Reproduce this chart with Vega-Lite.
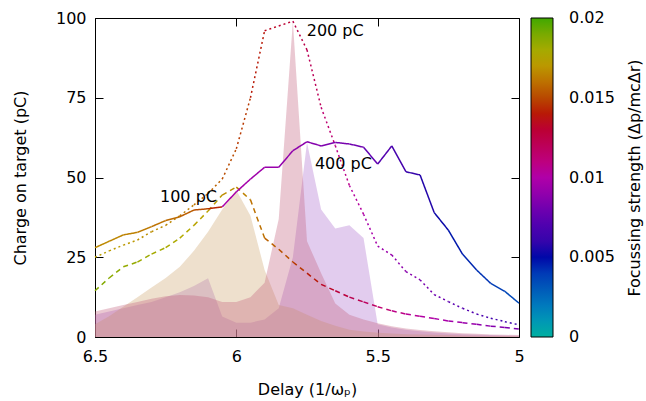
{
  "$schema": "https://vega.github.io/schema/vega-lite/v6.json",
  "width": 424,
  "height": 319,
  "autosize": {"type": "none"},
  "padding": {"left": 95, "top": 18, "right": 127, "bottom": 64},
  "background": "white",
  "config": {
    "font": "DejaVu Sans",
    "view": {"stroke": "black", "strokeWidth": 1},
    "axis": {"grid": false, "domain": false, "tickColor": "black", "tickSize": -8, "tickWidth": 1, "labelFontSize": 16, "labelColor": "black", "labelFlush": false, "labelOverlap": false, "titleFontSize": 16, "titleFontWeight": "normal", "titleColor": "black"},
    "text": {"font": "DejaVu Sans"}
  },
  "datasets": {
    "lines": [
      {"s": "100 pC", "d": 6.5, "q": 14.5, "f": 0.0188},
      {"s": "100 pC", "d": 6.45, "q": 18.5, "f": 0.0186},
      {"s": "100 pC", "d": 6.4, "q": 22, "f": 0.0184},
      {"s": "100 pC", "d": 6.35, "q": 23.5, "f": 0.0182},
      {"s": "100 pC", "d": 6.3, "q": 26, "f": 0.018},
      {"s": "100 pC", "d": 6.25, "q": 28, "f": 0.0178},
      {"s": "100 pC", "d": 6.2, "q": 31, "f": 0.0176},
      {"s": "100 pC", "d": 6.15, "q": 35, "f": 0.0173},
      {"s": "100 pC", "d": 6.1, "q": 39.5, "f": 0.017},
      {"s": "100 pC", "d": 6.05, "q": 44.5, "f": 0.0167},
      {"s": "100 pC", "d": 6.0, "q": 47, "f": 0.0164},
      {"s": "100 pC", "d": 5.95, "q": 43, "f": 0.016},
      {"s": "100 pC", "d": 5.9, "q": 31, "f": 0.0156},
      {"s": "100 pC", "d": 5.85, "q": 27.5, "f": 0.0152},
      {"s": "100 pC", "d": 5.8, "q": 23.5, "f": 0.0146},
      {"s": "100 pC", "d": 5.75, "q": 20, "f": 0.014},
      {"s": "100 pC", "d": 5.7, "q": 16.5, "f": 0.0134},
      {"s": "100 pC", "d": 5.65, "q": 14.5, "f": 0.0128},
      {"s": "100 pC", "d": 5.6, "q": 12.5, "f": 0.0123},
      {"s": "100 pC", "d": 5.55, "q": 11, "f": 0.0118},
      {"s": "100 pC", "d": 5.5, "q": 9.5, "f": 0.0113},
      {"s": "100 pC", "d": 5.45, "q": 8.2, "f": 0.0108},
      {"s": "100 pC", "d": 5.4, "q": 7.2, "f": 0.0104},
      {"s": "100 pC", "d": 5.35, "q": 6.5, "f": 0.0101},
      {"s": "100 pC", "d": 5.3, "q": 5.8, "f": 0.0098},
      {"s": "100 pC", "d": 5.25, "q": 5, "f": 0.0095},
      {"s": "100 pC", "d": 5.2, "q": 4.5, "f": 0.0092},
      {"s": "100 pC", "d": 5.15, "q": 4, "f": 0.0089},
      {"s": "100 pC", "d": 5.1, "q": 3.4, "f": 0.0086},
      {"s": "100 pC", "d": 5.05, "q": 3, "f": 0.0083},
      {"s": "100 pC", "d": 5.0, "q": 2.5, "f": 0.008},
      {"s": "200 pC", "d": 6.5, "q": 25, "f": 0.0172},
      {"s": "200 pC", "d": 6.45, "q": 27, "f": 0.0171},
      {"s": "200 pC", "d": 6.4, "q": 28.8, "f": 0.017},
      {"s": "200 pC", "d": 6.35, "q": 30.4, "f": 0.0168},
      {"s": "200 pC", "d": 6.3, "q": 33, "f": 0.0167},
      {"s": "200 pC", "d": 6.25, "q": 35, "f": 0.0165},
      {"s": "200 pC", "d": 6.2, "q": 38, "f": 0.0163},
      {"s": "200 pC", "d": 6.15, "q": 41.4, "f": 0.016},
      {"s": "200 pC", "d": 6.1, "q": 45, "f": 0.0156},
      {"s": "200 pC", "d": 6.05, "q": 49.5, "f": 0.0151},
      {"s": "200 pC", "d": 6.0, "q": 59, "f": 0.0146},
      {"s": "200 pC", "d": 5.95, "q": 75, "f": 0.014},
      {"s": "200 pC", "d": 5.9, "q": 96, "f": 0.0135},
      {"s": "200 pC", "d": 5.85, "q": 97.5, "f": 0.013},
      {"s": "200 pC", "d": 5.8, "q": 99, "f": 0.0125},
      {"s": "200 pC", "d": 5.75, "q": 90, "f": 0.012},
      {"s": "200 pC", "d": 5.7, "q": 72, "f": 0.0113},
      {"s": "200 pC", "d": 5.65, "q": 60, "f": 0.0107},
      {"s": "200 pC", "d": 5.6, "q": 47.5, "f": 0.0102},
      {"s": "200 pC", "d": 5.55, "q": 38.5, "f": 0.0097},
      {"s": "200 pC", "d": 5.5, "q": 28.5, "f": 0.0093},
      {"s": "200 pC", "d": 5.45, "q": 25.7, "f": 0.0089},
      {"s": "200 pC", "d": 5.4, "q": 20.5, "f": 0.0086},
      {"s": "200 pC", "d": 5.35, "q": 17.9, "f": 0.0082},
      {"s": "200 pC", "d": 5.3, "q": 13.3, "f": 0.0079},
      {"s": "200 pC", "d": 5.25, "q": 11.1, "f": 0.0075},
      {"s": "200 pC", "d": 5.2, "q": 9, "f": 0.0072},
      {"s": "200 pC", "d": 5.15, "q": 7.2, "f": 0.0068},
      {"s": "200 pC", "d": 5.1, "q": 5.9, "f": 0.0065},
      {"s": "200 pC", "d": 5.05, "q": 4.8, "f": 0.0061},
      {"s": "200 pC", "d": 5.0, "q": 3.8, "f": 0.0058},
      {"s": "400 pC", "d": 6.5, "q": 28, "f": 0.0166},
      {"s": "400 pC", "d": 6.45, "q": 30, "f": 0.0165},
      {"s": "400 pC", "d": 6.4, "q": 32, "f": 0.0164},
      {"s": "400 pC", "d": 6.35, "q": 32.8, "f": 0.0162},
      {"s": "400 pC", "d": 6.3, "q": 34.6, "f": 0.016},
      {"s": "400 pC", "d": 6.25, "q": 36.5, "f": 0.0158},
      {"s": "400 pC", "d": 6.2, "q": 37.7, "f": 0.0155},
      {"s": "400 pC", "d": 6.15, "q": 39.8, "f": 0.0151},
      {"s": "400 pC", "d": 6.1, "q": 40.2, "f": 0.0142},
      {"s": "400 pC", "d": 6.05, "q": 40.8, "f": 0.0098},
      {"s": "400 pC", "d": 6.0, "q": 45.5, "f": 0.0096},
      {"s": "400 pC", "d": 5.95, "q": 49.5, "f": 0.0094},
      {"s": "400 pC", "d": 5.9, "q": 53.2, "f": 0.0092},
      {"s": "400 pC", "d": 5.85, "q": 53.2, "f": 0.009},
      {"s": "400 pC", "d": 5.8, "q": 58.4, "f": 0.0088},
      {"s": "400 pC", "d": 5.75, "q": 61.2, "f": 0.0086},
      {"s": "400 pC", "d": 5.7, "q": 59.9, "f": 0.0084},
      {"s": "400 pC", "d": 5.65, "q": 61, "f": 0.0082},
      {"s": "400 pC", "d": 5.6, "q": 60.5, "f": 0.008},
      {"s": "400 pC", "d": 5.55, "q": 59.5, "f": 0.0077},
      {"s": "400 pC", "d": 5.5, "q": 54.2, "f": 0.0072},
      {"s": "400 pC", "d": 5.45, "q": 59.9, "f": 0.0066},
      {"s": "400 pC", "d": 5.4, "q": 51.8, "f": 0.006},
      {"s": "400 pC", "d": 5.35, "q": 50.8, "f": 0.0055},
      {"s": "400 pC", "d": 5.3, "q": 39, "f": 0.0051},
      {"s": "400 pC", "d": 5.25, "q": 33.5, "f": 0.0048},
      {"s": "400 pC", "d": 5.2, "q": 26, "f": 0.0045},
      {"s": "400 pC", "d": 5.15, "q": 21, "f": 0.0042},
      {"s": "400 pC", "d": 5.1, "q": 16.8, "f": 0.0039},
      {"s": "400 pC", "d": 5.05, "q": 14.3, "f": 0.0036},
      {"s": "400 pC", "d": 5.0, "q": 10.6, "f": 0.0033}
    ],
    "areas": [
      {"s": "100 pC", "d": 6.5, "q": 4},
      {"s": "100 pC", "d": 6.45, "q": 6.5},
      {"s": "100 pC", "d": 6.4, "q": 9.5},
      {"s": "100 pC", "d": 6.35, "q": 12.5},
      {"s": "100 pC", "d": 6.3, "q": 15.5},
      {"s": "100 pC", "d": 6.25, "q": 18.5},
      {"s": "100 pC", "d": 6.2, "q": 22},
      {"s": "100 pC", "d": 6.15, "q": 27},
      {"s": "100 pC", "d": 6.1, "q": 33},
      {"s": "100 pC", "d": 6.05, "q": 40},
      {"s": "100 pC", "d": 6.0, "q": 46},
      {"s": "100 pC", "d": 5.95, "q": 38},
      {"s": "100 pC", "d": 5.9, "q": 21},
      {"s": "100 pC", "d": 5.85, "q": 10},
      {"s": "100 pC", "d": 5.8, "q": 9},
      {"s": "100 pC", "d": 5.75, "q": 7},
      {"s": "100 pC", "d": 5.7, "q": 5},
      {"s": "100 pC", "d": 5.65, "q": 3.5},
      {"s": "100 pC", "d": 5.6, "q": 2.3},
      {"s": "100 pC", "d": 5.55, "q": 1.7},
      {"s": "100 pC", "d": 5.5, "q": 1.3},
      {"s": "100 pC", "d": 5.45, "q": 1.1},
      {"s": "100 pC", "d": 5.4, "q": 0.9},
      {"s": "100 pC", "d": 5.35, "q": 0.8},
      {"s": "100 pC", "d": 5.3, "q": 0.7},
      {"s": "100 pC", "d": 5.25, "q": 0.6},
      {"s": "100 pC", "d": 5.2, "q": 0.5},
      {"s": "100 pC", "d": 5.15, "q": 0.4},
      {"s": "100 pC", "d": 5.1, "q": 0.35},
      {"s": "100 pC", "d": 5.05, "q": 0.3},
      {"s": "100 pC", "d": 5.0, "q": 0.25},
      {"s": "200 pC", "d": 6.5, "q": 8},
      {"s": "200 pC", "d": 6.45, "q": 9},
      {"s": "200 pC", "d": 6.4, "q": 10},
      {"s": "200 pC", "d": 6.35, "q": 11},
      {"s": "200 pC", "d": 6.3, "q": 12},
      {"s": "200 pC", "d": 6.25, "q": 12.8},
      {"s": "200 pC", "d": 6.2, "q": 13.2},
      {"s": "200 pC", "d": 6.15, "q": 13},
      {"s": "200 pC", "d": 6.1, "q": 12.5},
      {"s": "200 pC", "d": 6.05, "q": 11},
      {"s": "200 pC", "d": 6.0, "q": 11},
      {"s": "200 pC", "d": 5.95, "q": 12.5},
      {"s": "200 pC", "d": 5.9, "q": 17},
      {"s": "200 pC", "d": 5.85, "q": 37},
      {"s": "200 pC", "d": 5.8, "q": 99},
      {"s": "200 pC", "d": 5.75, "q": 30},
      {"s": "200 pC", "d": 5.7, "q": 20},
      {"s": "200 pC", "d": 5.65, "q": 10.5},
      {"s": "200 pC", "d": 5.6, "q": 7},
      {"s": "200 pC", "d": 5.55, "q": 5.5},
      {"s": "200 pC", "d": 5.5, "q": 4.3},
      {"s": "200 pC", "d": 5.45, "q": 3.4},
      {"s": "200 pC", "d": 5.4, "q": 2.7},
      {"s": "200 pC", "d": 5.35, "q": 2.2},
      {"s": "200 pC", "d": 5.3, "q": 1.8},
      {"s": "200 pC", "d": 5.25, "q": 1.5},
      {"s": "200 pC", "d": 5.2, "q": 1.2},
      {"s": "200 pC", "d": 5.15, "q": 1},
      {"s": "200 pC", "d": 5.1, "q": 0.8},
      {"s": "200 pC", "d": 5.05, "q": 0.7},
      {"s": "200 pC", "d": 5.0, "q": 0.6},
      {"s": "400 pC", "d": 6.5, "q": 7},
      {"s": "400 pC", "d": 6.45, "q": 8},
      {"s": "400 pC", "d": 6.4, "q": 9},
      {"s": "400 pC", "d": 6.35, "q": 10},
      {"s": "400 pC", "d": 6.3, "q": 11},
      {"s": "400 pC", "d": 6.25, "q": 12.5},
      {"s": "400 pC", "d": 6.2, "q": 14},
      {"s": "400 pC", "d": 6.15, "q": 16},
      {"s": "400 pC", "d": 6.1, "q": 18.4},
      {"s": "400 pC", "d": 6.05, "q": 6.4},
      {"s": "400 pC", "d": 6.0, "q": 4.5},
      {"s": "400 pC", "d": 5.95, "q": 4.5},
      {"s": "400 pC", "d": 5.9, "q": 5.5},
      {"s": "400 pC", "d": 5.85, "q": 9},
      {"s": "400 pC", "d": 5.8, "q": 25},
      {"s": "400 pC", "d": 5.75, "q": 61},
      {"s": "400 pC", "d": 5.7, "q": 40},
      {"s": "400 pC", "d": 5.65, "q": 34},
      {"s": "400 pC", "d": 5.6, "q": 35},
      {"s": "400 pC", "d": 5.55, "q": 31},
      {"s": "400 pC", "d": 5.5, "q": 4},
      {"s": "400 pC", "d": 5.45, "q": 3},
      {"s": "400 pC", "d": 5.4, "q": 2.3},
      {"s": "400 pC", "d": 5.35, "q": 1.8},
      {"s": "400 pC", "d": 5.3, "q": 1.4},
      {"s": "400 pC", "d": 5.25, "q": 1.1},
      {"s": "400 pC", "d": 5.2, "q": 0.9},
      {"s": "400 pC", "d": 5.15, "q": 0.7},
      {"s": "400 pC", "d": 5.1, "q": 0.6},
      {"s": "400 pC", "d": 5.05, "q": 0.5},
      {"s": "400 pC", "d": 5.0, "q": 0.4}
    ],
    "labels": [
      {"t": "100 pC", "d": 6.27, "q": 44},
      {"t": "200 pC", "d": 5.751, "q": 96},
      {"t": "400 pC", "d": 5.722, "q": 54.2}
    ]
  },
  "layer": [
    {
      "data": {"name": "areas"},
      "transform": [{"filter": "datum.s === '400 pC'"}],
      "mark": {"type": "area", "fillOpacity": 0.35, "stroke": null},
      "encoding": {
        "x": {"field": "d", "type": "quantitative", "scale": {"domain": [5, 6.5], "reverse": true, "nice": false, "zero": false}, "axis": null},
        "y": {"field": "q", "type": "quantitative", "stack": null, "scale": {"domain": [0, 100], "nice": false}, "axis": null},
        "fill": {"field": "s", "type": "nominal", "scale": {"domain": ["100 pC", "200 pC", "400 pC"], "range": ["#cea670", "#c3627e", "#ac6dce"]}, "legend": null}
      }
    },
    {
      "data": {"name": "areas"},
      "transform": [{"filter": "datum.s === '100 pC'"}],
      "mark": {"type": "area", "fillOpacity": 0.35, "stroke": null},
      "encoding": {
        "x": {"field": "d", "type": "quantitative", "axis": null},
        "y": {"field": "q", "type": "quantitative", "stack": null, "axis": null},
        "fill": {"field": "s", "type": "nominal", "legend": null}
      }
    },
    {
      "data": {"name": "areas"},
      "transform": [{"filter": "datum.s === '200 pC'"}],
      "mark": {"type": "area", "fillOpacity": 0.35, "stroke": null},
      "encoding": {
        "x": {"field": "d", "type": "quantitative", "axis": null},
        "y": {"field": "q", "type": "quantitative", "stack": null, "axis": null},
        "fill": {"field": "s", "type": "nominal", "legend": null}
      }
    },
    {
      "data": {"name": "lines"},
      "transform": [
        {"window": [{"op": "lead", "field": "d", "as": "d2"}, {"op": "lead", "field": "q", "as": "q2"}], "groupby": ["s"], "sort": [{"field": "d", "order": "descending"}]},
        {"filter": "datum.d2 != null"}
      ],
      "mark": {"type": "rule", "strokeWidth": 1.5, "strokeCap": "butt"},
      "encoding": {
        "x": {"field": "d", "type": "quantitative", "axis": {"values": [6.5, 6, 5.5, 5], "format": "~g", "title": "Delay (1/ωₚ)", "labelPadding": 19, "titlePadding": 17}},
        "x2": {"field": "d2"},
        "y": {"field": "q", "type": "quantitative", "axis": {"values": [0, 25, 50, 75, 100], "title": "Charge on target (pC)", "labelPadding": 17, "titlePadding": 27}},
        "y2": {"field": "q2"},
        "strokeDash": {"field": "s", "type": "nominal", "scale": {"domain": ["100 pC", "200 pC", "400 pC"], "range": [[5, 4], [2, 3], [1, 0]]}, "legend": null},
        "color": {
          "field": "f", "type": "quantitative",
          "scale": {"domain": [0, 0.0025, 0.005, 0.0075, 0.01, 0.0125, 0.0138, 0.015, 0.0175, 0.02], "range": ["#00b0a0", "#0068b8", "#0008a8", "#5a00b0", "#b000a8", "#b80048", "#b80008", "#b84800", "#b8aa00", "#40a800"]},
          "legend": {
            "title": "Focussing strength (Δp/mcΔr)",
            "orient": "right", "offset": 11, "padding": 0,
            "gradientLength": 319, "gradientThickness": 22,
            "gradientStrokeColor": "black", "gradientStrokeWidth": 1,
            "values": [0, 0.005, 0.01, 0.015, 0.02], "format": "~g",
            "labelFontSize": 16, "labelOffset": 16, "labelColor": "black", "labelOverlap": false, "labelBaseline": "middle",
            "titleOrient": "right", "titleFontSize": 16, "titleFontWeight": "normal", "titleColor": "black", "titleAnchor": "middle", "titlePadding": 28, "titleLimit": 500,
            "encoding": {"title": {"angle": {"value": 270}}, "labels": {"baseline": {"value": "middle"}}}
          }
        }
      }
    },
    {
      "data": {"name": "labels"},
      "mark": {"type": "text", "align": "left", "baseline": "middle", "fontSize": 16, "color": "black"},
      "encoding": {
        "x": {"field": "d", "type": "quantitative", "axis": {"orient": "top", "labels": false, "title": null, "values": [6.5, 6, 5.5, 5]}},
        "y": {"field": "q", "type": "quantitative", "axis": {"orient": "right", "labels": false, "title": null, "values": [0, 25, 50, 75, 100]}},
        "text": {"field": "t"}
      }
    }
  ],
  "resolve": {"axis": {"x": "independent", "y": "independent"}}
}
